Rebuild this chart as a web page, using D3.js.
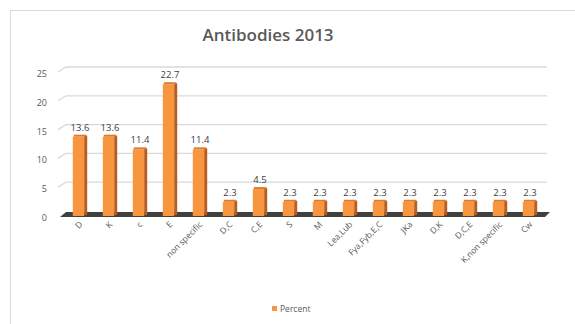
<html>
  <head>
    <script src="https://d3js.org/d3.v7.min.js"></script>
    <style>
      body { margin: 0; background: #fff; }
      text { font-family: "Open Sans", "DejaVu Sans", sans-serif; }
    </style>
  </head>
  <body>
    <script type="text/javascript">
      var categories = ["D","K","c","E","non specific","D,C","C,E","S","M","Lea,Lub",
                        "Fya,Fyb,E,C","JKa","D,K","D,C,E","K,non specific","Cw"];
      var percent = [13.6,13.6,11.4,22.7,11.4,2.3,4.5,2.3,2.3,2.3,2.3,2.3,2.3,2.3,2.3,2.3];
      var yTicks = [0,5,10,15,20,25];

      var w = 575, h = 324;
      var x = d3.scaleBand().domain(categories).range([65,545]).paddingInner(0.52).paddingOuter(0.26);
      var y = d3.scaleLinear().domain([0,25]).range([215,71]);

      var svg = d3.select("body").append("svg")
        .attr("width",w)
        .attr("height",h);

      // chart frame
      svg.append("rect")
        .attr("x",10.5).attr("y",10.5)
        .attr("width",570).attr("height",330)
        .attr("fill","#fff")
        .attr("stroke","#d9d9d9");

      svg.append("text")
        .attr("x",268).attr("y",41)
        .attr("text-anchor","middle")
        .attr("font-size",17)
        .attr("font-weight",600)
        .attr("fill","#595959")
        .text("Antibodies 2013");

      // back wall gridlines (slight 3D offset)
      var grid = svg.append("g");
      grid.selectAll("path").data(yTicks.slice(1)).enter().append("path")
        .attr("d", d => "M58," + (y(d)+1) + "L66," + (y(d)-4) + "L547," + (y(d)-4))
        .attr("fill","none")
        .attr("stroke","#d9d9d9")
        .attr("stroke-width",1.3);

      // y axis labels
      svg.append("g").selectAll("text").data(yTicks).enter().append("text")
        .attr("x",47)
        .attr("y", d => y(d)+6)
        .attr("text-anchor","end")
        .attr("font-size",9)
        .attr("fill","#595959")
        .text(d => d);

      // floor
      svg.append("path")
        .attr("d","M60," + (y(0)+2) + "L66," + (y(0)-3) + "L550," + (y(0)-3) + "L545," + (y(0)+2) + "Z")
        .attr("fill","#404040");

      // bars
      var bars = svg.append("g");
      bars.selectAll("rect.front").data(percent).enter().append("rect")
        .attr("class","front")
        .attr("x",(d,i) => x(categories[i]))
        .attr("y", d => y(d))
        .attr("width",x.bandwidth()-3)
        .attr("height", d => y(0) - y(d) + 1)
        .attr("fill","#f7963f");
      bars.selectAll("rect.side").data(percent).enter().append("rect")
        .attr("class","side")
        .attr("x",(d,i) => x(categories[i]) + x.bandwidth()-3)
        .attr("y", d => y(d)-1)
        .attr("width",3)
        .attr("height", d => y(0) - y(d) + 1)
        .attr("fill","#b85d1e");
      bars.selectAll("rect.top").data(percent).enter().append("rect")
        .attr("class","top")
        .attr("x",(d,i) => x(categories[i]) + 1)
        .attr("y", d => y(d)-2)
        .attr("width",x.bandwidth()-2)
        .attr("height",2)
        .attr("fill","#e07b2e");

      // value labels
      svg.append("g").selectAll("text").data(percent).enter().append("text")
        .attr("x",(d,i) => x(categories[i]) + x.bandwidth()/2)
        .attr("y", d => y(d)-6)
        .attr("text-anchor","middle")
        .attr("font-size",9.5)
        .attr("fill","#404040")
        .text(d => d3.format(".1f")(d));

      // category labels, rotated
      svg.append("g").selectAll("text").data(categories).enter().append("text")
        .attr("transform",(d) => "translate(" + (x(d) + x.bandwidth()/2 + 3) + "," + (y(0)+10) + ") rotate(-45)")
        .attr("text-anchor","end")
        .attr("font-size",8.5)
        .attr("fill","#595959")
        .text(d => d);

      // legend
      svg.append("rect")
        .attr("x",272).attr("y",306)
        .attr("width",5).attr("height",5)
        .attr("fill","#f7963f");
      svg.append("text")
        .attr("x",280).attr("y",312)
        .attr("font-size",8.5)
        .attr("fill","#595959")
        .text("Percent");
    </script>
  </body>
</html>
